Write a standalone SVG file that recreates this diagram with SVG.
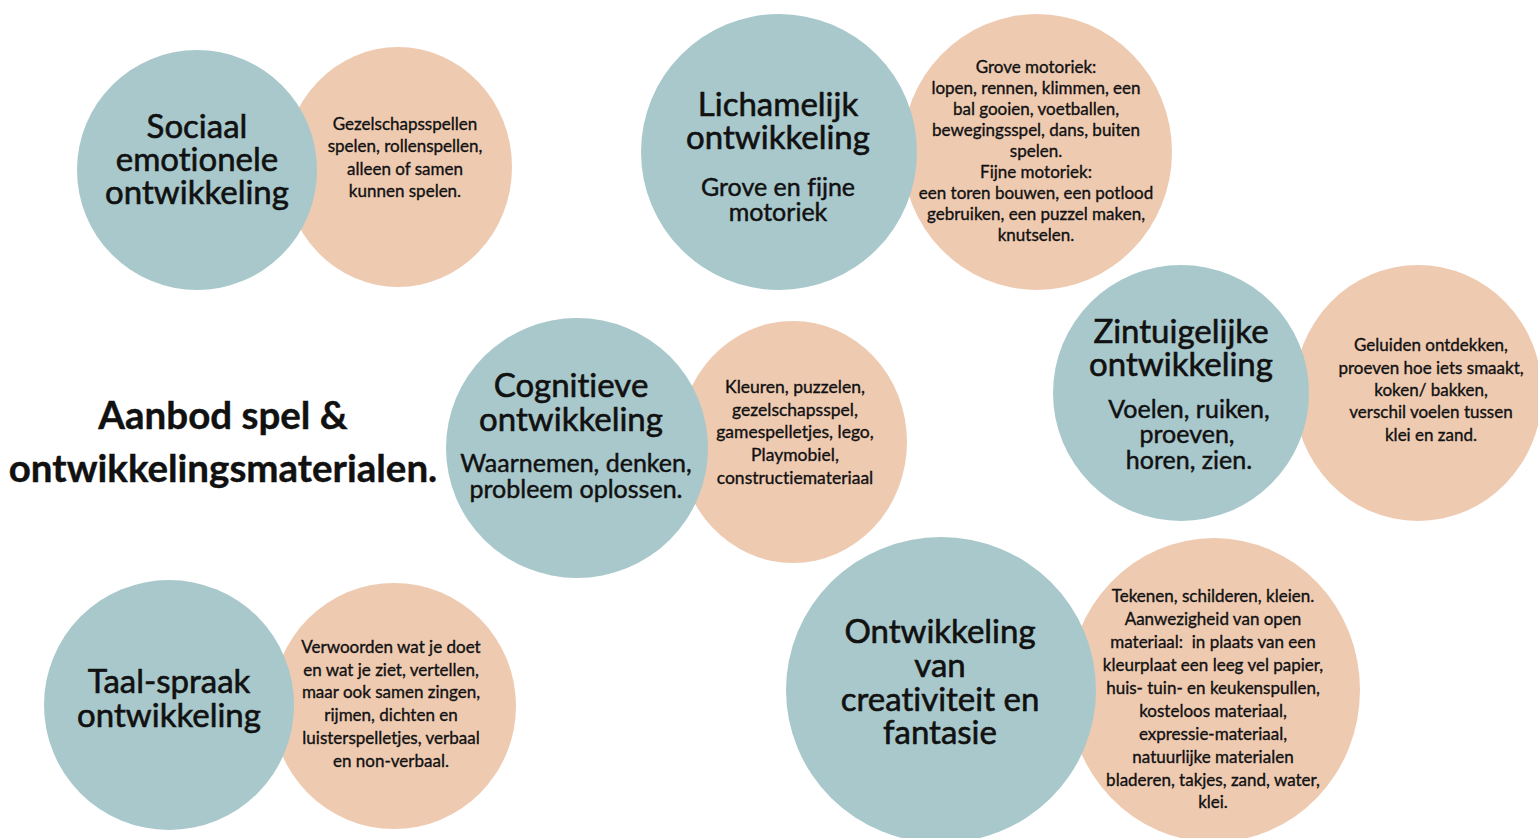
<svg xmlns="http://www.w3.org/2000/svg" width="1538" height="838" viewBox="0 0 1538 838">
<style>
.t{fill:#a8c8cb}
.p{fill:#eecab1}
text{font-family:Lato,"Open Sans","DejaVu Sans",sans-serif;fill:#111;text-anchor:middle;font-variant-ligatures:none;stroke:#111}
.h{font-size:33px;stroke-width:0.6}
.s{font-size:25px;stroke-width:0.45}
.b{font-size:17px;stroke-width:0.35}
.c{font-size:17.5px;stroke-width:0.35}
.title{font-size:38.5px;font-weight:bold;stroke-width:0.4}
</style>
<rect width="1538" height="838" fill="#fff"/>
<g id="connectors"/>
<g id="title">
<text class="title" x="223" y="429">Aanbod spel &amp;</text>
<text class="title" x="223" y="482">ontwikkelingsmaterialen.</text>
</g>
<g id="sociaal">
<ellipse class="p" cx="398" cy="167" rx="114" ry="120"/>
<circle class="t" cx="197" cy="170" r="120"/>
<text class="h" x="197" y="138">Sociaal</text>
<text class="h" x="197" y="171">emotionele</text>
<text class="h" x="197" y="204">ontwikkeling</text>
<text class="b" x="405" y="130">Gezelschapsspellen</text>
<text class="b" x="405" y="152">spelen, rollenspellen,</text>
<text class="b" x="405" y="175">alleen of samen</text>
<text class="b" x="405" y="197">kunnen spelen.</text>
</g>
<g id="lichamelijk">
<ellipse class="p" cx="1037" cy="152" rx="135" ry="138"/>
<circle class="t" cx="779" cy="152" r="138"/>
<text class="h" x="778" y="116">Lichamelijk</text>
<text class="h" x="778" y="149">ontwikkeling</text>
<text class="s" x="778" y="196">Grove en fijne</text>
<text class="s" x="778" y="221">motoriek</text>
<text class="b" x="1036" y="73">Grove motoriek:</text>
<text class="b" x="1036" y="94">lopen, rennen, klimmen, een</text>
<text class="b" x="1036" y="115">bal gooien, voetballen,</text>
<text class="b" x="1036" y="136">bewegingsspel, dans, buiten</text>
<text class="b" x="1036" y="157">spelen.</text>
<text class="b" x="1036" y="178">Fijne motoriek:</text>
<text class="b" x="1036" y="199">een toren bouwen, een potlood</text>
<text class="b" x="1036" y="220">gebruiken, een puzzel maken,</text>
<text class="b" x="1036" y="241">knutselen.</text>
</g>
<g id="zintuigelijk">
<ellipse class="p" cx="1418" cy="393" rx="124" ry="128"/>
<circle class="t" cx="1181" cy="393" r="128"/>
<text class="h" x="1181" y="343">Zintuigelijke</text>
<text class="h" x="1181" y="376">ontwikkeling</text>
<text class="s" x="1189" y="418">Voelen, ruiken,</text>
<text class="s" x="1187" y="443">proeven,</text>
<text class="s" x="1189" y="469">horen, zien.</text>
<text class="b" x="1431" y="351">Geluiden ontdekken,</text>
<text class="b" x="1431" y="374">proeven hoe iets smaakt,</text>
<text class="b" x="1431" y="396">koken/ bakken,</text>
<text class="b" x="1431" y="418">verschil voelen tussen</text>
<text class="b" x="1431" y="441">klei en zand.</text>
</g>
<g id="cognitieve">
<ellipse class="p" cx="793" cy="442" rx="114" ry="121"/>
<ellipse class="t" cx="577" cy="448" rx="131" ry="130"/>
<text class="h" x="571" y="397">Cognitieve</text>
<text class="h" x="571" y="431">ontwikkeling</text>
<text class="s" x="576" y="472">Waarnemen, denken,</text>
<text class="s" x="576" y="498">probleem oplossen.</text>
<text class="c" x="795" y="393">Kleuren, puzzelen,</text>
<text class="c" x="795" y="416">gezelschapsspel,</text>
<text class="c" x="795" y="438">gamespelletjes, lego,</text>
<text class="c" x="795" y="461">Playmobiel,</text>
<text class="c" x="795" y="484">constructiemateriaal</text>
</g>
<g id="taal">
<ellipse class="p" cx="394" cy="706" rx="122" ry="123"/>
<circle class="t" cx="169" cy="705" r="125"/>
<text class="h" x="169" y="693">Taal-spraak</text>
<text class="h" x="169" y="727">ontwikkeling</text>
<text class="b" x="391" y="653">Verwoorden wat je doet</text>
<text class="b" x="391" y="676">en wat je ziet, vertellen,</text>
<text class="b" x="391" y="698">maar ook samen zingen,</text>
<text class="b" x="391" y="721">rijmen, dichten en</text>
<text class="b" x="391" y="744">luisterspelletjes, verbaal</text>
<text class="b" x="391" y="767">en non-verbaal.</text>
</g>
<g id="creativiteit">
<ellipse class="p" cx="1214" cy="690" rx="146" ry="152"/>
<ellipse class="t" cx="941" cy="690" rx="155" ry="153"/>
<text class="h" x="940" y="643">Ontwikkeling</text>
<text class="h" x="940" y="677">van</text>
<text class="h" x="940" y="711">creativiteit en</text>
<text class="h" x="940" y="744">fantasie</text>
<text class="b" x="1213" y="602">Tekenen, schilderen, kleien.</text>
<text class="b" x="1213" y="625">Aanwezigheid van open</text>
<text class="b" x="1213" y="648" xml:space="preserve">materiaal:  in plaats van een</text>
<text class="b" x="1213" y="671">kleurplaat een leeg vel papier,</text>
<text class="b" x="1213" y="694">huis- tuin- en keukenspullen,</text>
<text class="b" x="1213" y="717">kosteloos materiaal,</text>
<text class="b" x="1213" y="740">expressie-materiaal,</text>
<text class="b" x="1213" y="763">natuurlijke materialen</text>
<text class="b" x="1213" y="786">bladeren, takjes, zand, water,</text>
<text class="b" x="1213" y="808">klei.</text>
</g>
</svg>
